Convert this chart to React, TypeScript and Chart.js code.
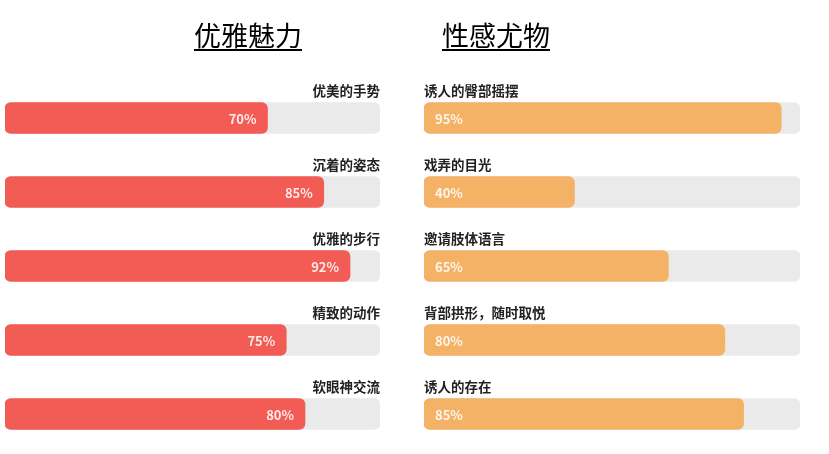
import { useEffect, useRef } from 'react';
import Chart from 'chart.js/auto';

const graceLabels = ['优美的手势', '沉着的姿态', '优雅的步行', '精致的动作', '软眼神交流'];
const graceValues = [70, 85, 92, 75, 80];
const sexyLabels = ['诱人的臀部摇摆', '戏弄的目光', '邀请肢体语言', '背部拱形，随时取悦', '诱人的存在'];
const sexyValues = [95, 40, 65, 80, 85];
const trackValues = [100, 100, 100, 100, 100];

const FONT = '"Noto Sans CJK SC", "Noto Sans", sans-serif';

// draws the label above each bar and the percentage inside it
const barText = (side: 'left' | 'right') => ({
  id: 'barText' + side,
  afterDatasetsDraw(chart: any) {
    const { ctx, chartArea } = chart;
    const meta = chart.getDatasetMeta(1);
    const labels = chart.data.labels;
    const values = chart.data.datasets[1].data;
    ctx.save();
    meta.data.forEach((bar: any, i: number) => {
      const top = bar.y - bar.height / 2;
      ctx.font = `bold 13.5px ${FONT}`;
      ctx.fillStyle = '#222';
      ctx.textBaseline = 'middle';
      if (side === 'left') {
        ctx.textAlign = 'right';
        ctx.fillText(labels[i], chartArea.right, top - 12);
      } else {
        ctx.textAlign = 'left';
        ctx.fillText(labels[i], chartArea.left, top - 12);
      }
      ctx.font = `bold 13px ${FONT}`;
      ctx.fillStyle = 'rgba(255,255,255,0.88)';
      if (side === 'left') {
        ctx.textAlign = 'right';
        ctx.fillText(values[i] + '%', bar.x - 11, bar.y + 1);
      } else {
        ctx.textAlign = 'left';
        ctx.fillText(values[i] + '%', bar.base + 11, bar.y + 1);
      }
    });
    ctx.restore();
  },
});

function makeConfig(labels: string[], values: number[], color: string, side: 'left' | 'right', pad: any) {
  return {
    type: 'bar' as const,
    data: {
      labels,
      datasets: [
        {
          data: trackValues,
          backgroundColor: '#eaeaea',
          borderRadius: 6,
          borderSkipped: false,
          barThickness: 31,
          grouped: false,
          order: 2,
        },
        {
          data: values,
          backgroundColor: color,
          borderRadius: 6,
          borderSkipped: false,
          barThickness: 31,
          grouped: false,
          order: 1,
        },
      ],
    },
    options: {
      indexAxis: 'y' as const,
      responsive: false,
      animation: false as const,
      layout: { padding: pad },
      scales: {
        x: { display: false, min: 0, max: 100 },
        y: { display: false },
      },
      plugins: {
        legend: { display: false },
        tooltip: { enabled: false },
        title: { display: false },
      },
    },
    plugins: [barText(side)],
  };
}

export default function App() {
  const leftRef = useRef<HTMLCanvasElement>(null);
  const rightRef = useRef<HTMLCanvasElement>(null);

  useEffect(() => {
    let leftChart: Chart | null = null;
    let rightChart: Chart | null = null;
    if (leftRef.current) {
      leftChart = new Chart(
        leftRef.current,
        makeConfig(graceLabels, graceValues, '#f25c54', 'left', { left: 5, right: 20, top: 81, bottom: 3 }) as any
      );
    }
    if (rightRef.current) {
      rightChart = new Chart(
        rightRef.current,
        makeConfig(sexyLabels, sexyValues, '#f4b266', 'right', { left: 24, right: 29, top: 81, bottom: 3 }) as any
      );
    }
    return () => {
      leftChart?.destroy();
      rightChart?.destroy();
    };
  }, []);

  const titleStyle: React.CSSProperties = {
    position: 'absolute',
    top: 19,
    width: 200,
    textAlign: 'center',
    fontFamily: FONT,
    fontSize: 27,
    lineHeight: '32px',
    color: '#000',
    textDecoration: 'underline',
    textUnderlineOffset: 3,
    textDecorationThickness: 2,
  };

  return (
    <div style={{ position: 'fixed', left: 0, top: 0, width: 829, height: 454, background: '#fff' }}>
      <canvas ref={leftRef} width={400} height={454} style={{ position: 'absolute', left: 0, top: 0 }} />
      <canvas ref={rightRef} width={429} height={454} style={{ position: 'absolute', left: 400, top: 0 }} />
      <div style={{ ...titleStyle, left: 148 }}>优雅魅力</div>
      <div style={{ ...titleStyle, left: 396 }}>性感尤物</div>
    </div>
  );
}
